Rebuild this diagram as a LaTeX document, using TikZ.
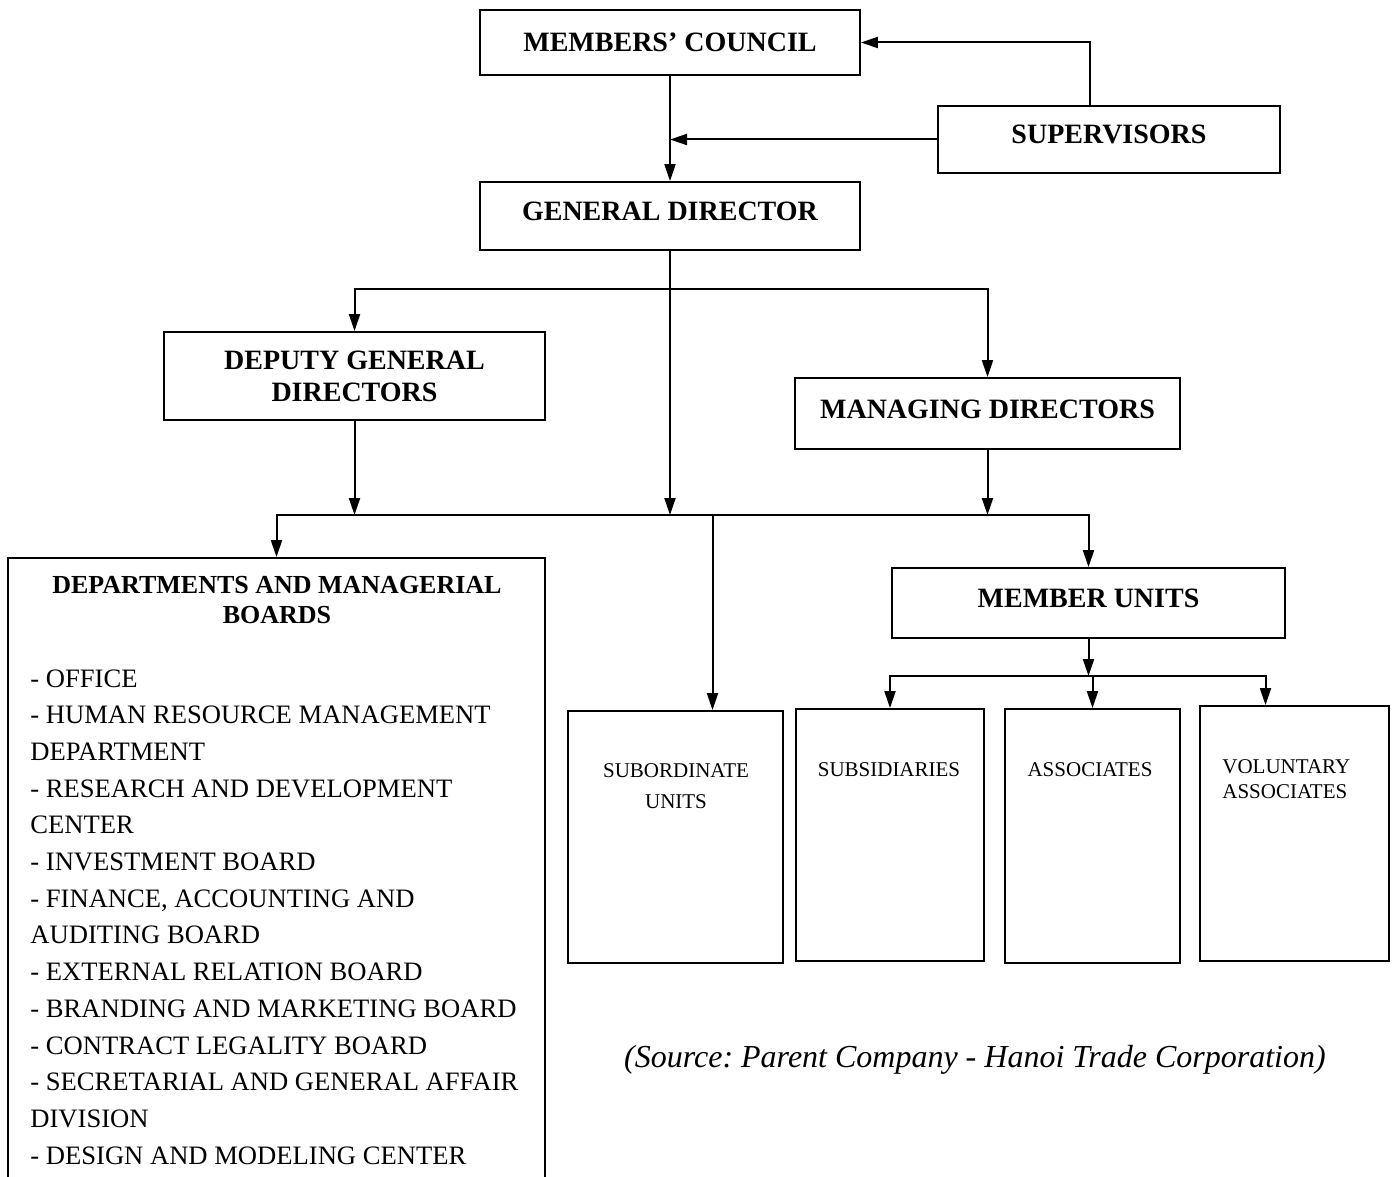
\documentclass[tikz,border=0pt]{standalone}
\usepackage{fontspec}
\setmainfont{Liberation Serif}
\usetikzlibrary{arrows.meta,calc}
\frenchspacing
\tikzstyle{headbox}=[draw,line width=0.9pt,inner sep=0pt,align=center,font=\bfseries\fontsize{14}{16}\selectfont]
\tikzstyle{raisedhead}=[headbox,text height=9.5pt,text depth=5pt]
\tikzstyle{unitbox}=[draw,line width=0.9pt,inner sep=0pt]
\tikzstyle{unittext}=[inner sep=0pt,font=\fontsize{10.5}{12.5}\selectfont]
\tikzstyle{link}=[line width=1pt,-{Triangle[length=8.5pt,width=5.5pt]}]

\begin{document}
\begin{tikzpicture}[x=0.5pt,y=-0.5pt]
\useasboundingbox (0,0) rectangle (1394,1177);
% management levels
\node[headbox,minimum width=190pt,minimum height=32.5pt] (council) at (670,42.5) {MEMBERS’ COUNCIL};
\node[raisedhead,minimum width=171pt,minimum height=33.5pt] (super) at (1109,139.5) {SUPERVISORS};
\node[raisedhead,minimum width=190pt,minimum height=34pt] (gendir) at (670,216) {GENERAL DIRECTOR};
\node[headbox,minimum width=190.5pt,minimum height=44pt] (deputy) at (354.5,376) {DEPUTY GENERAL\\DIRECTORS};
\node[raisedhead,minimum width=192.5pt,minimum height=35.5pt] (managing) at (987.5,413.5) {MANAGING DIRECTORS};
\node[raisedhead,minimum width=196.5pt,minimum height=35pt] (members) at (1088.5,603) {MEMBER UNITS};
% departments (box runs off the page)
\node[unitbox,minimum width=268.5pt,minimum height=321pt] (depts) at (276.5,879) {};
\node[inner sep=0pt,align=center,font=\bfseries\fontsize{13}{15}\selectfont] (deptstitle) at (277,600) {DEPARTMENTS AND MANAGERIAL\\BOARDS};
\node[inner sep=0pt,align=left,anchor=north west,font=\fontsize{13.3}{18.35}\selectfont] (deptslist) at (30,669) {%
- OFFICE\\
- HUMAN RESOURCE MANAGEMENT\\
DEPARTMENT\\
- RESEARCH AND DEVELOPMENT\\
CENTER\\
- INVESTMENT BOARD\\
- FINANCE, ACCOUNTING AND\\
AUDITING BOARD\\
- EXTERNAL RELATION BOARD\\
- BRANDING AND MARKETING BOARD\\
- CONTRACT LEGALITY BOARD\\
- SECRETARIAL AND GENERAL AFFAIR\\
DIVISION\\
- DESIGN AND MODELING CENTER};
% unit columns
\node[unitbox,minimum width=107.5pt,minimum height=126pt] (subord) at (675.5,837) {};
\node[unitbox,minimum width=94pt,minimum height=126pt] (subsid) at (890,835) {};
\node[unitbox,minimum width=87.5pt,minimum height=127pt] (assoc) at (1092.5,836) {};
\node[unitbox,minimum width=94.5pt,minimum height=127.5pt] (volunt) at (1294.5,833.5) {};
\node[unittext,align=center,font=\fontsize{10.5}{15.5}\selectfont] (subordtext) at (676,786.5) {SUBORDINATE\\UNITS};
\node[unittext] (subsidtext) at (889,770) {SUBSIDIARIES};
\node[unittext] (assoctext) at (1090,770) {ASSOCIATES};
\node[unittext,align=left,anchor=west] (volunttext) at (1222,779.5) {VOLUNTARY\\ASSOCIATES};
\node[inner sep=0pt,font=\itshape\fontsize{16}{19}\selectfont] (source) at (975,1060) {(Source: Parent Company - Hanoi Trade Corporation)};
% connectors
\coordinate (topbus) at (670,289);
\coordinate (midbus) at (670,515);
\coordinate (unitbus) at (1088.5,676);
\coordinate (subtop) at ($(subord.north)+(37,0)$);
\coordinate (voltop) at ($(volunt.north)+(-29,0)$);
\draw[link] (council) -- (gendir);
\draw[link] (super.west) -- (super.west -| council.south);
\draw[link] ($(super.north)+(-19,0)$) |- (council.east);
\draw[link] (gendir.south) -- (midbus);
\draw[link] (topbus) -| (deputy.north);
\draw[link] (topbus) -| (managing.north);
\draw[link] (deputy.south) -- (deputy.south |- midbus);
\draw[link] (managing.south) -- (managing.south |- midbus);
\draw[link] (midbus) -| (depts.north);
\draw[link] (midbus) -| (members.north);
\draw[link] (subtop |- midbus) -- (subtop);
\draw[link] (members.south) -- (unitbus);
\draw[link] (unitbus) -| (subsid.north);
\draw[link] (unitbus) -| (assoc.north);
\draw[link] (unitbus) -| (voltop);
\end{tikzpicture}
\end{document}
